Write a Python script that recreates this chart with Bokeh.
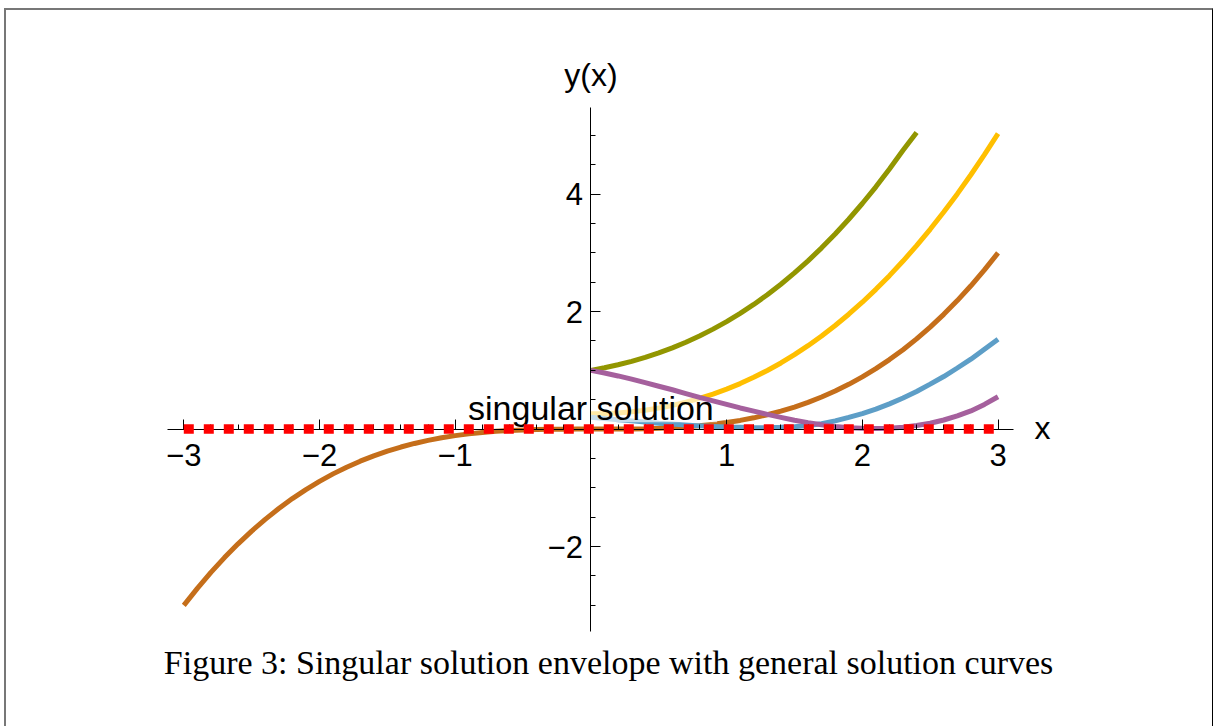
from bokeh.plotting import figure
from bokeh.models import Range1d, FixedTicker, Label, BoxAnnotation
from bokeh.embed import file_html
from bokeh.resources import INLINE

# ---- data ----
x_env = [-3.0, 3.0]
y_env = [0.0, 0.0]

x_brown = [round(-3.0 + 0.1 * i, 1) for i in range(61)]
y_brown = [-3.000, -2.710, -2.439, -2.187, -1.953, -1.736, -1.536, -1.352, -1.183, -1.029,
           -0.889, -0.762, -0.648, -0.546, -0.455, -0.375, -0.305, -0.244, -0.192, -0.148,
           -0.111, -0.081, -0.057, -0.038, -0.024, -0.014, -0.007, -0.003, -0.001, 0.000,
           0.000,
           0.000, 0.001, 0.003, 0.007, 0.014, 0.024, 0.038, 0.057, 0.081, 0.111,
           0.148, 0.192, 0.244, 0.305, 0.375, 0.455, 0.546, 0.648, 0.762, 0.889,
           1.029, 1.183, 1.352, 1.536, 1.736, 1.953, 2.187, 2.439, 2.710, 3.000]

x_green = [round(0.1 * i, 1) for i in range(25)]
y_green = [1.000, 1.044, 1.095, 1.154, 1.221, 1.298, 1.383, 1.479, 1.585, 1.702,
           1.830, 1.970, 2.122, 2.287, 2.466, 2.658, 2.864, 3.085, 3.321, 3.572,
           3.840, 4.124, 4.426, 4.745, 5.050]

x_right = [round(0.1 * i, 1) for i in range(31)]
y_yellow = [0.260, 0.264, 0.275, 0.294, 0.322, 0.358, 0.403, 0.458, 0.522, 0.596,
            0.680, 0.775, 0.881, 0.998, 1.126, 1.267, 1.420, 1.585, 1.763, 1.955,
            2.160, 2.379, 2.612, 2.860, 3.123, 3.401, 3.694, 4.003, 4.329, 4.671, 5.030]
y_blue = [0.200, 0.180, 0.160, 0.140, 0.120, 0.100, 0.085, 0.070, 0.055, 0.045,
          0.035, 0.030, 0.025, 0.025, 0.030, 0.040, 0.060, 0.090, 0.140, 0.200,
          0.265, 0.340, 0.430, 0.530, 0.640, 0.765, 0.895, 1.040, 1.190, 1.360, 1.530]
y_purple = [1.000, 0.955, 0.905, 0.850, 0.790, 0.730, 0.670, 0.605, 0.540, 0.480,
            0.420, 0.360, 0.305, 0.250, 0.200, 0.150, 0.110, 0.075, 0.045, 0.025,
            0.015, 0.010, 0.015, 0.030, 0.060, 0.100, 0.155, 0.225, 0.310, 0.420, 0.550]

x_major = [-3, -2, -1, 1, 2, 3]
x_minor = [round(-3 + 0.2 * i, 1) for i in range(31) if i % 5 != 0]
y_major = [-2, 2, 4]
y_minor = [-3.0, -2.5, -1.5, -1.0, -0.5, 0.5, 1.0, 1.5, 2.5, 3.0, 3.5, 4.5, 5.0]

x_labels = {-3: "\u22123", -2: "\u22122", -1: "\u22121", 1: "1", 2: "2", 3: "3"}
y_labels = {-2: "\u22122", 2: "2", 4: "4"}

x_axis_extent = (-3.12, 3.114)
y_axis_extent = (-3.445, 5.474)

caption = "Figure 3: Singular solution envelope with general solution curves"

# ---- figure (frame spans the whole canvas; axes limited with bounds) ----
p = figure(width=1209, height=718, output_backend="svg", toolbar_location=None,
           x_range=Range1d(-4.3064, 4.6025), y_range=Range1d(-5.096, 7.125),
           min_border_left=0, min_border_right=0, min_border_top=0, min_border_bottom=0,
           styles={"border-top": "2px solid #777777", "border-left": "2px solid #777777",
                   "border-right": "1px solid #000000", "margin-left": "4px", "margin-top": "8px"})
p.grid.visible = False
p.outline_line_color = None
p.background_fill_color = "white"
p.border_fill_color = "white"

for ax in (p.xaxis[0], p.yaxis[0]):
    ax.fixed_location = 0
    ax.axis_line_color = "black"
    ax.axis_line_width = 1
    ax.major_tick_line_color = "black"
    ax.minor_tick_line_color = "black"
    ax.major_tick_in = 10
    ax.major_tick_out = 0
    ax.minor_tick_in = 5
    ax.minor_tick_out = 0
    ax.major_label_text_font = "Liberation Sans"
    ax.major_label_text_font_size = "31px"
    ax.major_label_text_color = "black"

p.xaxis[0].bounds = x_axis_extent
p.yaxis[0].bounds = y_axis_extent
p.xaxis[0].ticker = FixedTicker(ticks=x_major, minor_ticks=x_minor)
p.yaxis[0].ticker = FixedTicker(ticks=y_major, minor_ticks=y_minor)
p.xaxis[0].major_label_overrides = x_labels
p.yaxis[0].major_label_overrides = y_labels
p.xaxis[0].major_label_standoff = 15
p.yaxis[0].major_label_standoff = 8

lw = 5
p.line(x_green, y_green, line_color="#929600", line_width=lw)
p.line(x_right, y_yellow, line_color="#FFBF00", line_width=lw)
p.line(x_brown, y_brown, line_color="#C56E1A", line_width=lw)
p.line(x_right, y_blue, line_color="#5D9EC7", line_width=lw)
# semi-transparent background of the "singular solution" text (covers lines drawn before it)
p.add_layout(BoxAnnotation(left=-0.94, right=0.93, bottom=0.118, top=0.53,
                           fill_color="white", fill_alpha=0.65, line_color=None, level="glyph"))
p.line(x_right, y_purple, line_color="#A5609D", line_width=lw, level="guide")
p.line(x_env, y_env, line_color="#FF0000", line_width=9.5, line_dash="10 10", line_cap="butt",
       level="overlay")

p.add_layout(Label(x=0.0, y=0.366, text="singular solution", text_align="center",
                   text_baseline="middle", text_font="Liberation Sans", text_font_size="34px",
                   text_color="black"))
p.add_layout(Label(x=3.269, y=0.02, text="x", text_align="left", text_baseline="middle",
                   text_font="Liberation Sans", text_font_size="32px", text_color="black"))
p.add_layout(Label(x=0.0, y=6.03, text="y(x)", text_align="center", text_baseline="middle",
                   text_font="Liberation Sans", text_font_size="32px", text_color="black"))
p.add_layout(Label(x=0.13, y=-3.978, text=caption, text_align="center", text_baseline="middle",
                   text_font="Liberation Serif", text_font_size="34px", text_color="black"))

open("out.html", "w").write(file_html(p, INLINE))
